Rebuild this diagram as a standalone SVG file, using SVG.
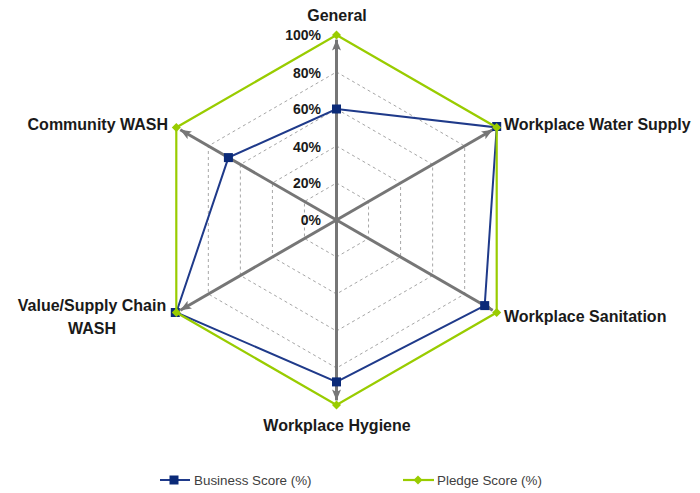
<svg xmlns="http://www.w3.org/2000/svg" width="700" height="493" viewBox="0 0 700 493">
<style>
.grid{fill:none;stroke:#A6A6A6;stroke-width:1;stroke-dasharray:3 3}
.axis{stroke:#767676;stroke-width:3;fill:none}
.lbl{font-family:"Liberation Sans",Arial,sans-serif;font-weight:bold;font-size:16px;fill:#1a1a1a}
.tick{font-family:"Liberation Sans",Arial,sans-serif;font-weight:bold;font-size:14px;fill:#1a1a1a;text-anchor:end}
.leg{font-family:"Liberation Sans",Arial,sans-serif;font-size:13.4px;fill:#404040}
.biz{fill:none;stroke:#1F3A8A;stroke-width:2}
.pledge{fill:none;stroke:#99CC00;stroke-width:2.2}
.sq{fill:#0B2A78}
.dm{fill:#99CC00}
</style>
<defs>
<marker id="arr" markerUnits="userSpaceOnUse" markerWidth="12" markerHeight="10" refX="11" refY="5" orient="auto">
<path d="M0,0.5 L11,5 L0,9.5 L2.5,5 z" fill="#767676"/>
</marker>
<rect id="sqm" x="-4.5" y="-4.5" width="9" height="9" class="sq"/>
<path id="dmm" d="M0,-4.5 L4.5,0 L0,4.5 L-4.5,0 z" class="dm"/>
</defs>
<rect width="700" height="493" fill="#ffffff"/>
<g id="gridlines">
<polygon class="grid" points="336.5,183 368.54,201.5 368.54,238.5 336.5,257 304.46,238.5 304.46,201.5"/>
<polygon class="grid" points="336.5,146 400.59,183 400.59,257 336.5,294 272.41,257 272.41,183"/>
<polygon class="grid" points="336.5,109 432.63,164.5 432.63,275.5 336.5,331 240.37,275.5 240.37,164.5"/>
<polygon class="grid" points="336.5,72 464.67,146 464.67,294 336.5,368 208.33,294 208.33,146"/>
</g>
<g id="connectors">
<line class="axis" x1="336.5" y1="220" x2="336.5" y2="39.6" marker-end="url(#arr)"/>
<line class="axis" x1="336.5" y1="220" x2="492.7" y2="129.8" marker-end="url(#arr)"/>
<line class="axis" x1="336.5" y1="220" x2="492.7" y2="310.2" marker-end="url(#arr)"/>
<line class="axis" x1="336.5" y1="220" x2="336.5" y2="400.4" marker-end="url(#arr)"/>
<line class="axis" x1="336.5" y1="220" x2="180.3" y2="310.2" marker-end="url(#arr)"/>
<line class="axis" x1="336.5" y1="220" x2="180.3" y2="129.8" marker-end="url(#arr)"/>
</g>
<g id="ticks">
<text class="tick" x="321" y="40">100%</text>
<text class="tick" x="321" y="78">80%</text>
<text class="tick" x="321" y="114">60%</text>
<text class="tick" x="321" y="152">40%</text>
<text class="tick" x="321" y="188">20%</text>
<text class="tick" x="321" y="225">0%</text>
</g>
<g id="business-series">
<polygon class="biz" points="336.5,109 496.7,127.5 484.7,305.6 336.5,381.9 176.3,312.5 228.4,157.6"/>
<use href="#sqm" x="336.5" y="109"/>
<use href="#sqm" x="496.7" y="126.5"/>
<use href="#sqm" x="484.7" y="305.6"/>
<use href="#sqm" x="336.5" y="381.9"/>
<use href="#sqm" x="175.3" y="312.5"/>
<use href="#sqm" x="228.4" y="157.6"/>
</g>
<g id="pledge-series">
<polygon class="pledge" points="336.5,35 496.7,127.5 496.7,312.5 336.5,405 176.3,312.5 176.3,127.5"/>
<use href="#dmm" x="336.5" y="35"/>
<use href="#dmm" x="496.7" y="127.5"/>
<use href="#dmm" x="496.7" y="312.5"/>
<use href="#dmm" x="336.5" y="405"/>
<use href="#dmm" x="176.3" y="312.5"/>
<use href="#dmm" x="176.3" y="127.5"/>
</g>
<g id="node-general"><text class="lbl" x="337" y="21" text-anchor="middle">General</text></g>
<g id="node-water"><text class="lbl" x="504" y="130">Workplace Water Supply</text></g>
<g id="node-sanitation"><text class="lbl" x="504" y="322">Workplace Sanitation</text></g>
<g id="node-hygiene"><text class="lbl" x="337" y="431" text-anchor="middle">Workplace Hygiene</text></g>
<g id="node-value"><text class="lbl" x="92" y="311" text-anchor="middle">Value/Supply Chain</text><text class="lbl" x="92" y="334" text-anchor="middle">WASH</text></g>
<g id="node-community"><text class="lbl" x="168" y="130" text-anchor="end">Community WASH</text></g>
<g id="legend">
<line x1="160" y1="480" x2="190" y2="480" stroke="#1F3A8A" stroke-width="2"/>
<use href="#sqm" x="174" y="480"/>
<text class="leg" x="194" y="485">Business Score (%)</text>
<line x1="403" y1="480" x2="434" y2="480" stroke="#99CC00" stroke-width="2.2"/>
<use href="#dmm" x="418" y="480"/>
<text class="leg" x="437" y="485">Pledge Score (%)</text>
</g>
</svg>
